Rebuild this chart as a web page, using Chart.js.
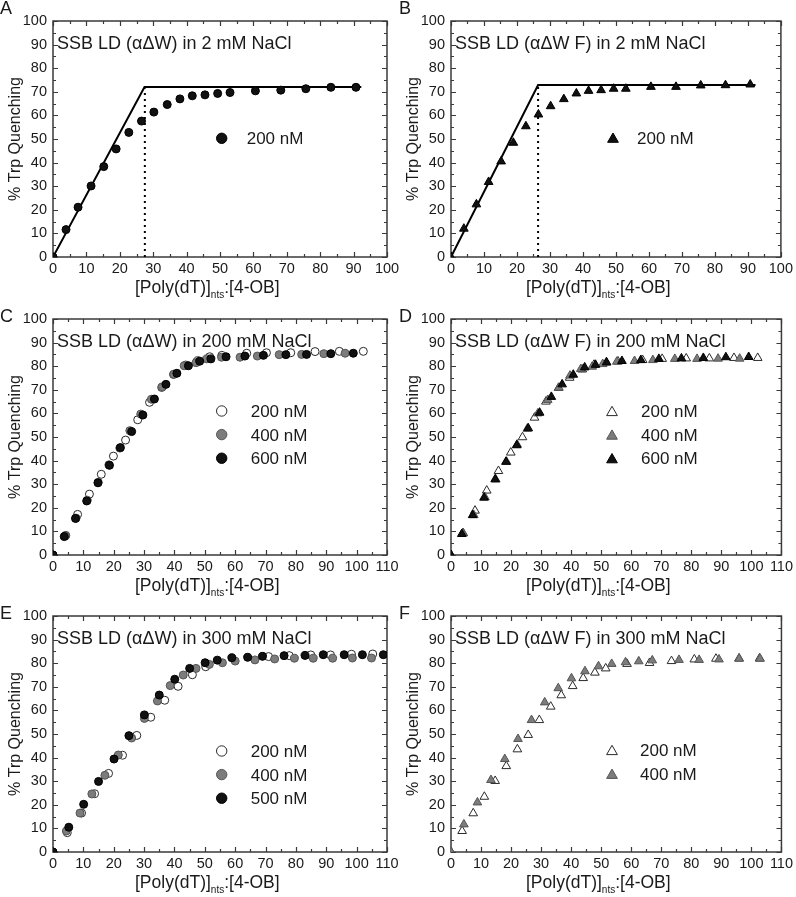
<!DOCTYPE html>
<html>
<head>
<meta charset="utf-8">
<script src="https://cdn.jsdelivr.net/npm/chart.js@4.4.0/dist/chart.umd.min.js"></script>
<style>
  body { margin: 0; background: #fff; }
  #fig { position: relative; width: 796px; height: 897px; overflow: hidden;
         font-family: "Liberation Sans", Arial, sans-serif; color: #1a1a1a; }
  #fig canvas { position: absolute; }
  .letter { position: absolute; font-size: 18px; line-height: 20px; }
  .xtitle { position: absolute; font-size: 17.5px; line-height: 20px; white-space: nowrap; }
  .xtitle sub { font-size: 10px; vertical-align: -5px; line-height: 0; }
</style>
</head>
<body>
<div id="fig"></div>
<script>
// ---- data ----
const aX200 = [0, 3.9, 7.5, 11.4, 15.2, 18.9, 22.7, 26.5, 30.2, 34.2, 38.0, 41.7, 45.5, 49.3, 53.0, 60.6, 68.2, 75.7, 83.2, 90.7];
const aY200 = [0, 11.6, 21.1, 30.1, 38.3, 45.8, 52.8, 57.6, 61.4, 64.6, 67.0, 68.3, 68.7, 69.3, 69.7, 70.4, 70.7, 71.3, 71.9, 71.9];
const aFitX = [0, 27.4, 92.3];
const aFitY = [0, 72.0, 72.0];
const aBreakX = [27.5, 27.5];
const aBreakY = [0, 71.5];

const bX200 = [0, 3.9, 7.7, 11.4, 15.2, 18.9, 22.7, 26.5, 30.2, 34.2, 38.0, 41.7, 45.5, 49.3, 53.0, 60.6, 68.2, 75.7, 83.2, 90.7];
const bY200 = [0, 12.0, 22.3, 31.8, 40.5, 48.4, 55.4, 60.4, 63.9, 66.9, 69.3, 70.4, 70.7, 71.3, 71.3, 72.1, 72.1, 72.7, 72.8, 73.1];
const bFitX = [0, 26.4, 92.3];
const bFitY = [0, 72.9, 72.9];
const bBreakX = [26.4, 26.4];
const bBreakY = [0, 72.4];

const cX200 = [0, 4.2, 8.1, 12.0, 15.9, 19.9, 23.9, 27.9, 31.8, 35.8, 39.7, 43.7, 47.6, 51.6, 55.6, 63.8, 70.3, 78.3, 86.3, 94.3, 102.2];
const cY200 = [0, 8.3, 17.2, 25.8, 34.2, 41.9, 48.7, 57.3, 64.7, 71.0, 76.5, 80.5, 82.3, 84.0, 84.6, 85.5, 85.7, 85.7, 86.2, 86.3, 86.3];
const cX400 = [4.1, 7.6, 11.3, 14.9, 18.4, 22.0, 25.3, 28.9, 32.4, 36.0, 39.8, 43.2, 47.1, 50.6, 55.5, 61.6, 67.3, 74.5, 81.9, 89.2, 96.2];
const cY400 = [8.1, 15.6, 23.2, 30.8, 38.2, 45.3, 52.7, 59.7, 66.0, 71.3, 76.6, 80.2, 81.5, 83.1, 83.8, 83.8, 84.3, 84.9, 85.0, 85.3, 85.5];
const cX600 = [0, 3.7, 7.4, 11.1, 14.8, 18.6, 22.2, 25.9, 29.6, 33.4, 37.2, 40.8, 44.6, 48.3, 52.0, 57.0, 63.2, 69.3, 76.7, 83.5, 91.5, 98.9];
const cY600 = [0, 7.8, 15.5, 22.9, 30.6, 38.0, 45.5, 52.3, 59.3, 66.1, 72.3, 77.0, 80.2, 82.1, 83.1, 84.0, 84.3, 84.6, 84.9, 85.0, 85.3, 85.5];

const dX200 = [0, 4.1, 8.0, 11.9, 15.8, 19.9, 23.8, 27.8, 31.6, 35.8, 39.5, 43.7, 47.6, 51.7, 55.6, 63.8, 70.3, 78.3, 86.0, 94.2, 102.1];
const dY200 = [0, 9.2, 18.8, 27.3, 35.6, 43.4, 49.9, 58.2, 65.0, 70.8, 75.1, 78.6, 80.6, 81.6, 82.0, 82.6, 83.1, 83.3, 83.3, 83.5, 83.5];
const dX400 = [3.9, 7.6, 11.3, 14.9, 18.5, 22.0, 25.4, 28.9, 32.2, 35.9, 39.6, 43.2, 47.0, 50.5, 55.2, 61.1, 67.2, 74.5, 81.9, 88.9, 96.1];
const dY400 = [9.3, 16.9, 24.5, 32.0, 39.5, 46.8, 53.5, 60.0, 65.7, 70.9, 76.0, 78.8, 79.8, 80.9, 81.9, 82.2, 82.6, 83.1, 83.1, 83.2, 83.2];
const dX600 = [0, 3.6, 7.2, 11.0, 14.7, 18.3, 21.9, 25.7, 29.5, 33.4, 37.0, 40.7, 44.5, 48.1, 51.8, 56.9, 63.2, 69.2, 76.7, 84.0, 91.5, 99.1];
const dY600 = [0, 8.9, 16.9, 24.3, 32.1, 39.5, 46.5, 53.7, 60.3, 67.0, 72.3, 76.4, 79.5, 80.6, 81.6, 82.2, 82.6, 83.1, 83.3, 83.5, 83.8, 83.9];

const eX200 = [0, 4.7, 9.4, 13.7, 18.3, 22.9, 27.6, 32.2, 36.8, 41.2, 45.9, 50.3, 71.0, 77.8, 84.9, 91.4, 98.3, 105.3];
const eY200 = [0, 8.2, 16.5, 24.7, 33.3, 41.0, 49.4, 57.1, 64.3, 70.2, 75.1, 78.5, 82.8, 83.2, 83.5, 83.5, 83.8, 83.9];
const eX400 = [4.4, 8.9, 12.8, 17.1, 21.5, 25.9, 30.1, 34.4, 38.6, 42.9, 47.1, 51.5, 55.8, 60.0, 66.5, 73.0, 79.5, 85.7, 92.1, 98.6, 104.9];
const eY400 = [8.9, 16.5, 24.6, 32.5, 41.1, 48.3, 56.6, 64.0, 70.5, 75.0, 77.8, 79.5, 80.2, 80.9, 81.4, 81.8, 82.1, 82.1, 82.1, 82.2, 82.2];
const eX500 = [0, 5.2, 10.1, 15.0, 20.1, 25.0, 30.1, 35.0, 40.1, 45.0, 50.1, 54.1, 58.9, 64.1, 69.0, 76.1, 83.0, 89.0, 95.9, 101.9, 108.8];
const eY500 = [0, 10.5, 20.2, 29.9, 39.4, 49.3, 58.1, 66.5, 73.2, 77.8, 80.2, 81.3, 82.3, 82.5, 82.9, 83.2, 83.3, 83.6, 83.6, 83.6, 83.6];

const fX200 = [0, 3.7, 7.4, 11.1, 14.7, 18.4, 22.1, 25.7, 29.4, 33.2, 36.7, 40.5, 44.0, 47.9, 51.5, 58.6, 66.1, 73.4, 81.0, 88.2, 95.9, 102.7];
const fY200 = [0, 8.9, 16.4, 23.4, 30.1, 36.4, 43.5, 49.6, 55.9, 61.6, 66.4, 70.3, 73.7, 76.0, 77.8, 79.7, 80.1, 80.9, 81.6, 81.9, 82.0, 82.0];
const fX400 = [0, 4.3, 8.8, 13.3, 17.9, 22.3, 26.8, 31.2, 35.7, 40.1, 44.6, 49.1, 53.5, 58.1, 62.5, 67.0, 75.9, 82.6, 89.2, 95.9, 102.9];
const fY400 = [0, 11.7, 21.0, 30.5, 39.4, 47.9, 55.9, 63.4, 69.4, 73.6, 76.6, 78.7, 79.7, 80.4, 80.8, 81.2, 81.4, 81.4, 81.6, 81.9, 81.9];

const yTicks = [0, 10, 20, 30, 40, 50, 60, 70, 80, 90, 100];

// ---- look ----
const FONT = "'Liberation Sans', Arial, sans-serif";
const INK = '#1a1a1a';
const FILLS = {
    black: { bg: '#111111', border: '#000000' },
    gray:  { bg: '#7c7c7c', border: '#555555' },
    open:  { bg: '#ffffff', border: '#2a2a2a' }
};

const panels = [
    { letter: 'A', col: 0, row: 0, xMax: 100, title: 'SSB LD (\u03b1\u0394W) in 2 mM NaCl',
      series: [{ label: '200 nM', x: aX200, y: aY200, fill: 'black', shape: 'circle' }],
      fit: { x: aFitX, y: aFitY }, brk: { x: aBreakX, y: aBreakY },
      legend: { dx: 168.7, dy: 117.3, step: 23.6, text: 25 } },
    { letter: 'B', col: 1, row: 0, xMax: 100, title: 'SSB LD (\u03b1\u0394W F) in 2 mM NaCl',
      series: [{ label: '200 nM', x: bX200, y: bY200, fill: 'black', shape: 'triangle' }],
      fit: { x: bFitX, y: bFitY }, brk: { x: bBreakX, y: bBreakY },
      legend: { dx: 162, dy: 116.7, step: 23.6, text: 24 } },
    { letter: 'C', col: 0, row: 1, xMax: 110, title: 'SSB LD (\u03b1\u0394W) in 200 mM NaCl',
      series: [
        { label: '200 nM', x: cX200, y: cY200, fill: 'open', shape: 'circle' },
        { label: '400 nM', x: cX400, y: cY400, fill: 'gray', shape: 'circle' },
        { label: '600 nM', x: cX600, y: cY600, fill: 'black', shape: 'circle' }],
      legend: { dx: 168.7, dy: 92, step: 23.6, text: 29 } },
    { letter: 'D', col: 1, row: 1, xMax: 110, title: 'SSB LD (\u03b1\u0394W F) in 200 mM NaCl',
      series: [
        { label: '200 nM', x: dX200, y: dY200, fill: 'open', shape: 'triangle' },
        { label: '400 nM', x: dX400, y: dY400, fill: 'gray', shape: 'triangle' },
        { label: '600 nM', x: dX600, y: dY600, fill: 'black', shape: 'triangle' }],
      legend: { dx: 161, dy: 92, step: 23.6, text: 29 } },
    { letter: 'E', col: 0, row: 2, xMax: 110, title: 'SSB LD (\u03b1\u0394W) in 300 mM NaCl',
      series: [
        { label: '200 nM', x: eX200, y: eY200, fill: 'open', shape: 'circle' },
        { label: '400 nM', x: eX400, y: eY400, fill: 'gray', shape: 'circle' },
        { label: '500 nM', x: eX500, y: eY500, fill: 'black', shape: 'circle' }],
      legend: { dx: 168.7, dy: 135, step: 23.6, text: 29 } },
    { letter: 'F', col: 1, row: 2, xMax: 110, title: 'SSB LD (\u03b1\u0394W F) in 300 mM NaCl',
      series: [
        { label: '200 nM', x: fX200, y: fY200, fill: 'open', shape: 'triangle' },
        { label: '400 nM', x: fX400, y: fY400, fill: 'gray', shape: 'triangle' }],
      legend: { dx: 161, dy: 134, step: 23.8, text: 28 } }
];

const COL_LEFT = [0, 398];
const COL_WIDTH = [410, 398];
const ROW_TOP = [0, 298, 595];
const CANVAS_H = 300;
const PLOT_RIGHT = [387, 387];   // chart area right edge inside canvas
const LETTER_TOP = [-2, 306, 603];
const XTITLE_LEFT = [135, 526];

const order = { black: 1, gray: 2, open: 3 };

// frame, inward ticks, in-plot title and legend
const panelDecor = {
    id: 'panelDecor',
    beforeDatasetsDraw(chart, args, opts) {
        const { ctx, chartArea: a, scales: { x, y } } = chart;
        ctx.save();
        ctx.strokeStyle = '#3a3a3a';
        ctx.lineWidth = 1.2;
        ctx.beginPath();
        for (let v = x.min; v <= x.max + 0.01; v += 5) {
            const px = Math.round(x.getPixelForValue(v)) + 0.5;
            const len = v % 10 === 0 ? 5 : 3;
            ctx.moveTo(px, a.bottom); ctx.lineTo(px, a.bottom - len);
            ctx.moveTo(px, a.top); ctx.lineTo(px, a.top + len);
        }
        for (let v = y.min; v <= y.max + 0.01; v += 5) {
            const py = Math.round(y.getPixelForValue(v)) + 0.5;
            const len = v % 10 === 0 ? 5 : 3;
            ctx.moveTo(a.left, py); ctx.lineTo(a.left + len, py);
            ctx.moveTo(a.right, py); ctx.lineTo(a.right - len, py);
        }
        ctx.stroke();
        ctx.lineWidth = 1.5;
        ctx.strokeRect(a.left, a.top, a.width, a.height);
        ctx.restore();
    },
    afterDraw(chart, args, opts) {
        const { ctx, chartArea: a } = chart;
        ctx.save();
        ctx.fillStyle = INK;
        ctx.textBaseline = 'alphabetic';
        ctx.font = '18px ' + FONT;
        ctx.fillText(opts.title, a.left + 4, a.top + 27.5);

        ctx.font = '17px ' + FONT;
        const lg = opts.legend;
        const items = chart.data.datasets.filter(d => d.inLegend);
        items.forEach((d, i) => {
            const cx = a.left + lg.dx;
            const cy = a.top + lg.dy + i * lg.step;
            ctx.fillStyle = d.backgroundColor;
            ctx.strokeStyle = d.borderColor;
            ctx.lineWidth = 1;
            Chart.helpers.drawPoint(ctx, {
                pointStyle: d.pointStyle,
                radius: d.pointStyle === 'triangle' ? 6.2 : 5.2,
                borderWidth: 1,
                rotation: 0
            }, cx, cy + (d.pointStyle === 'triangle' ? 1.5 : 0));
            ctx.fillStyle = INK;
            ctx.fillText(d.label, cx + lg.text, cy + 6);
        });
        ctx.restore();
    }
};

const fig = document.getElementById('fig');

panels.forEach(p => {
    const canvas = document.createElement('canvas');
    const w = COL_WIDTH[p.col];
    canvas.width = w;
    canvas.height = CANVAS_H;
    canvas.style.left = COL_LEFT[p.col] + 'px';
    canvas.style.top = ROW_TOP[p.row] + 'px';
    fig.appendChild(canvas);

    const letter = document.createElement('div');
    letter.className = 'letter';
    letter.textContent = p.letter;
    letter.style.left = (COL_LEFT[p.col] + (p.col ? 1 : 0)) + 'px';
    letter.style.top = LETTER_TOP[p.row] + 'px';
    fig.appendChild(letter);

    const xt = document.createElement('div');
    xt.className = 'xtitle';
    xt.innerHTML = '[Poly(dT)]<sub>nts</sub>:[4-OB]';
    xt.style.left = XTITLE_LEFT[p.col] + 'px';
    xt.style.top = (ROW_TOP[p.row] + 277) + 'px';
    fig.appendChild(xt);

    const datasets = p.series.map(s => {
        const f = FILLS[s.fill];
        const tri = s.shape === 'triangle';
        return {
            label: s.label,
            inLegend: true,
            data: s.x.map((v, i) => ({ x: v, y: s.y[i] })),
            pointStyle: s.shape,
            pointRadius: tri ? 5 : 4,
            pointBorderWidth: 1,
            backgroundColor: f.bg,
            borderColor: f.border,
            showLine: false,
            order: order[s.fill]
        };
    });
    if (p.fit) {
        datasets.push({
            label: 'fit',
            data: p.fit.x.map((v, i) => ({ x: v, y: p.fit.y[i] })),
            showLine: true, pointRadius: 0, borderColor: '#000', borderWidth: 2,
            order: 5
        });
        datasets.push({
            label: 'break',
            data: p.brk.x.map((v, i) => ({ x: v, y: p.brk.y[i] })),
            showLine: true, pointRadius: 0, borderColor: '#000', borderWidth: 2,
            borderDash: [2, 4], order: 6
        });
    }

    new Chart(canvas, {
        type: 'scatter',
        data: { datasets: datasets },
        options: {
            responsive: false,
            animation: false,
            layout: {
                autoPadding: false,
                padding: { top: 21, right: w - PLOT_RIGHT[p.col], left: 0, bottom: 0 }
            },
            plugins: {
                legend: { display: false },
                tooltip: { enabled: false },
                panelDecor: { title: p.title, legend: p.legend }
            },
            scales: {
                x: {
                    type: 'linear', min: 0, max: p.xMax,
                    afterFit(s) { s.height = CANVAS_H - 257; },
                    grid: { display: false, drawTicks: false },
                    border: { display: false },
                    ticks: { stepSize: 10, autoSkip: false, maxRotation: 0, padding: 3,
                             color: INK, font: { family: FONT, size: 14.5 } }
                },
                y: {
                    type: 'linear', min: 0, max: 100,
                    afterFit(s) { s.width = 53; },
                    afterBuildTicks(s) { s.ticks = yTicks.map(v => ({ value: v })); },
                    grid: { display: false, drawTicks: false },
                    border: { display: false },
                    ticks: { padding: 6, color: INK, font: { family: FONT, size: 14.5 } },
                    title: { display: true, text: '% Trp Quenching', color: INK,
                             font: { family: FONT, size: 16 }, padding: { top: 6, bottom: 0 } }
                }
            }
        },
        plugins: [panelDecor]
    });
});
</script>
</body>
</html>
